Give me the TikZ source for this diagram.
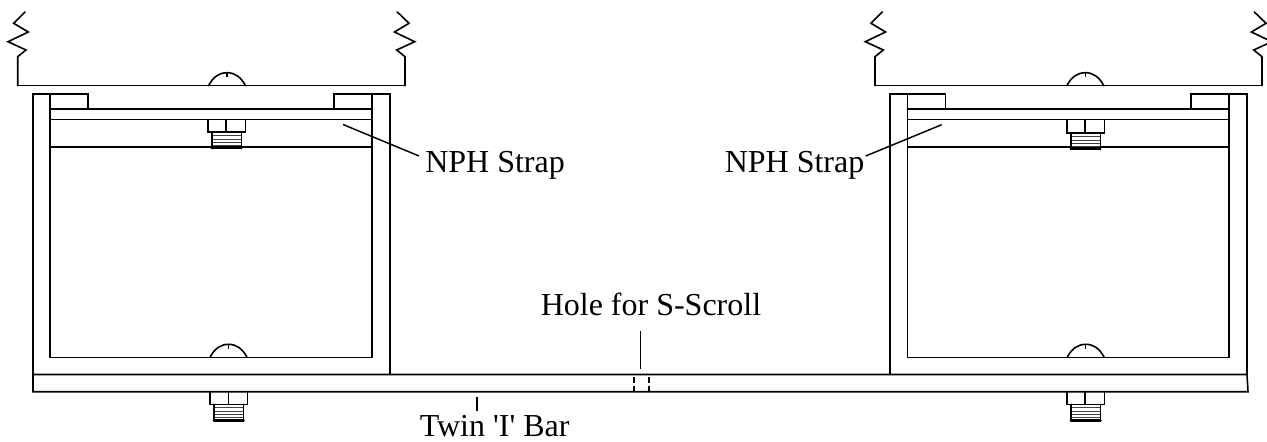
\documentclass[tikz,border=0pt]{standalone}
\usepackage{fontspec}
\setmainfont{Liberation Serif}[Ligatures=TeXOff]
\tikzset{
  px/.style={x=0.75pt,y=-0.75pt},
  part/.style={draw=black,line width=1.2pt,line join=miter,line cap=round},
  fine/.style={draw=black,line width=1.05pt},
  thin thread/.style={draw=black!75,line width=0.7pt},
  leader/.style={draw=black,line width=1.1pt},
  hidden/.style={draw=black,line width=1pt,dash pattern=on 4.2pt off 2.4pt},
  lab/.style={font=\fontsize{24}{24}\selectfont,inner sep=0pt,anchor=base west},
  dome/.pic={
    \draw[part] (-18.5,0) .. controls (-14,-8.5) and (-8,-13) .. (0,-13)
                .. controls (8,-13) and (14,-8.5) .. (18.5,0);
    \draw[fine] (0,-13) -- (0,-8.5);
  },
  bolt/.pic={
    \draw[part] (-18.8,0) -- (-18.8,12.6) -- (18.8,12.6) -- (18.8,0);
    \draw[fine] (-0.6,0) -- (-0.6,12.6);
    \draw[thin thread] (-14.5,16) -- (14.5,16) (-14.5,19.5) -- (14.5,19.5) (-14.5,22.7) -- (14.5,22.7) (-14.5,25.5) -- (14.5,25.5);
    \draw[part] (-14.8,12.6) -- (-14.8,29) (14.8,12.6) -- (14.8,29);
    \draw[draw=black,line width=2pt,line cap=round] (-14.8,28.6) -- (14.8,28.6);
  },
  spring/.pic={
    \draw[part] (0,0) -- (0,-29) -- (8.3,-35.7) -- (-9.7,-44) -- (10.6,-53.7) -- (-4,-62.4) -- (7.3,-73.7);
  },
  spring r/.pic={
    \draw[part] (0,0) -- (0,-29) -- (-8.3,-35.7) -- (9.7,-44) -- (-10.6,-53.7) -- (4,-62.4) -- (-7.7,-73.7);
  },
}
\begin{document}
\begin{tikzpicture}[px]
\useasboundingbox (0,0) rectangle (1267,442);
\clip (0,0) rectangle (1267,442);

% left assembly
\pic at (17.7,85.7) {spring};
\pic at (405,85.7) {spring r};
\draw[part] (17.7,85.7) -- (405,85.7);
\pic at (227,85.7) {dome};
\draw[part] (33,374.5) -- (33,94) -- (88,94) -- (88,109);
\draw[part] (390,374.5) -- (390,94) -- (334,94) -- (334,109);
\draw[part] (50,94) -- (50,357.3) -- (372,357.3) -- (372,94);
\draw[part] (50,109) -- (372,109);
\draw[fine] (50,119.5) -- (372,119.5);
\draw[fine] (50,147) -- (372,147);
\pic at (226.5,119.5) {bolt};
\pic at (228.5,357.3) {dome};
\pic at (228.8,391.7) {bolt};

% right assembly
\pic at (875,85.7) {spring};
\pic at (1262,85.7) {spring r};
\draw[part] (875,85.7) -- (1262,85.7);
\pic at (1085.3,85.7) {dome};
\draw[part] (889.7,374.5) -- (889.7,94) -- (945.3,94) -- (945.3,109);
\draw[part] (1246.7,374.5) -- (1246.7,94) -- (1191,94) -- (1191,109);
\draw[part] (907.3,94) -- (907.3,357.3) -- (1229,357.3) -- (1229,94);
\draw[part] (907.3,109) -- (1229,109);
\draw[fine] (907.3,119.5) -- (1229,119.5);
\draw[fine] (907.3,147) -- (1229,147);
\pic at (1085.5,120.5) {bolt};
\pic at (1085.7,357.3) {dome};
\pic at (1085.7,391.7) {bolt};

% twin I bar
\draw[part] (33,374.5) -- (1247,374.5) -- (1248,391.7) -- (33,391.7) -- cycle;
\draw[hidden] (634,377) -- (634,391);
\draw[hidden] (649,377) -- (649,391);

% labels
\node[lab] (strapL) at (425,173) {NPH Strap};
\node[lab] (strapR) at (724.5,173) {NPH Strap};
\node[lab] (hole) at (540.5,315.5) {Hole for S-Scroll};
\node[lab] (twin) at (419.5,436.7) {Twin 'I' Bar};
\coordinate (strapLend) at (343,124.5);
\coordinate (strapLstart) at (419,156);
\coordinate (strapRend) at (941.7,124.7);
\coordinate (strapRstart) at (865.7,156);
\coordinate (holeend) at (640.7,369);
\coordinate (holestart) at (640.7,330.5);
\coordinate (twinend) at (477,397);
\coordinate (twinstart) at (477,411);
\draw[leader] (strapLstart) -- (strapLend);
\draw[leader] (strapRstart) -- (strapRend);
\draw[leader] (holestart) -- (holeend);
\draw[leader] (twinstart) -- (twinend);
\end{tikzpicture}
\end{document}
